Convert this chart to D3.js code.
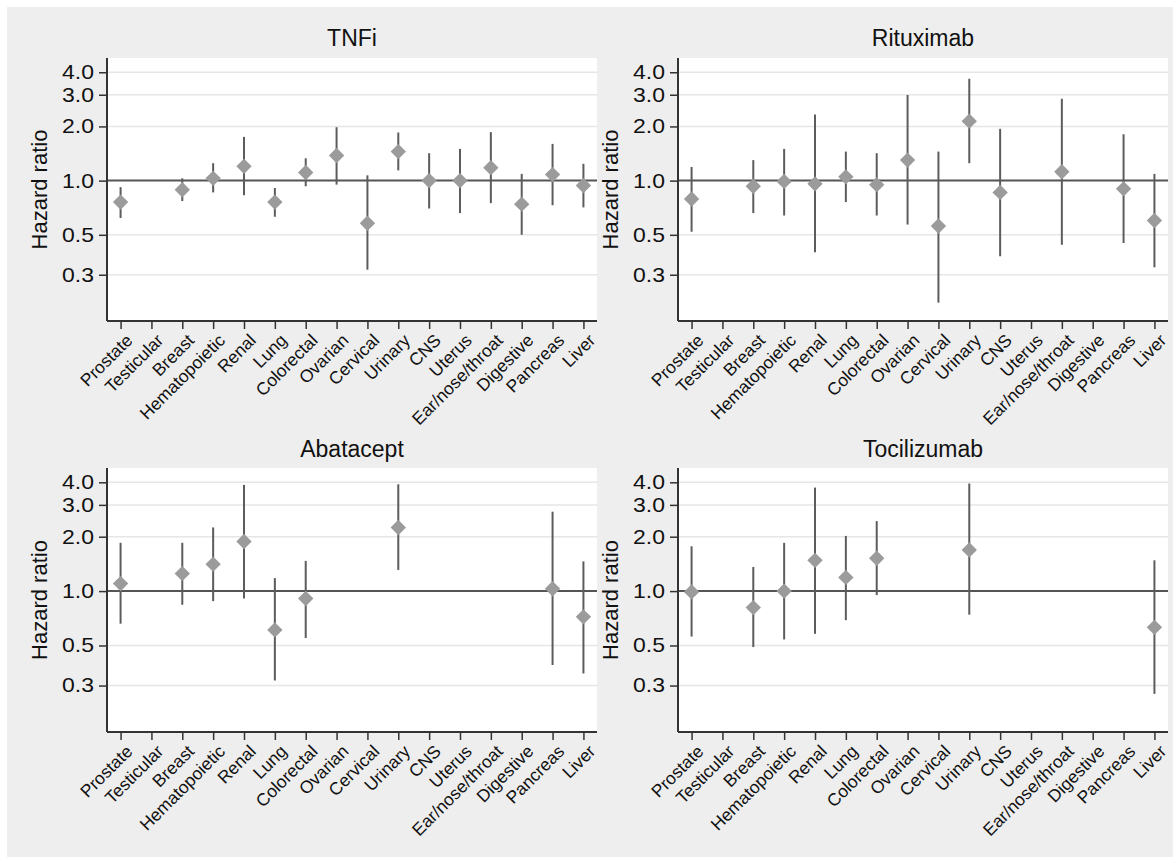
<!DOCTYPE html>
<html><head><meta charset="utf-8">
<script src="https://cdn.jsdelivr.net/npm/d3@7"></script>
<style>body{margin:0;background:#fff}text{font-family:"Liberation Sans",Arial,sans-serif}</style>
</head><body><svg id="c" width="1173" height="858"></svg>
<script>
const categories = ["Prostate","Testicular","Breast","Hematopoietic","Renal","Lung","Colorectal","Ovarian","Cervical","Urinary","CNS","Uterus","Ear/nose/throat","Digestive","Pancreas","Liver"];
const yTickValues = [0.3, 0.5, 1.0, 2.0, 3.0, 4.0];
const yDomain = [0.166, 4.8];
const panelTitles = ["TNFi", "Rituximab", "Abatacept", "Tocilizumab"];

const tnfiHR = [0.76, null, 0.89, 1.03, 1.20, 0.76, 1.11, 1.38, 0.58, 1.45, 1.00, 1.00, 1.18, 0.74, 1.08, 0.94];
const tnfiLo = [0.62, null, 0.77, 0.86, 0.83, 0.63, 0.93, 0.95, 0.32, 1.14, 0.70, 0.66, 0.75, 0.50, 0.73, 0.71];
const tnfiHi = [0.92, null, 1.03, 1.25, 1.75, 0.91, 1.33, 1.98, 1.07, 1.85, 1.42, 1.50, 1.86, 1.09, 1.60, 1.24];

const rituxHR = [0.79, null, 0.93, 0.99, 0.96, 1.05, 0.95, 1.30, 0.56, 2.14, 0.86, null, 1.12, null, 0.90, 0.60];
const rituxLo = [0.52, null, 0.66, 0.64, 0.40, 0.76, 0.64, 0.57, 0.21, 1.25, 0.38, null, 0.44, null, 0.45, 0.33];
const rituxHi = [1.19, null, 1.30, 1.50, 2.33, 1.45, 1.42, 2.99, 1.45, 3.68, 1.94, null, 2.85, null, 1.81, 1.09];

const abataHR = [1.10, null, 1.25, 1.41, 1.88, 0.61, 0.91, null, null, 2.25, null, null, null, null, 1.03, 0.72];
const abataLo = [0.66, null, 0.84, 0.88, 0.91, 0.32, 0.55, null, null, 1.31, null, null, null, null, 0.39, 0.35];
const abataHi = [1.85, null, 1.85, 2.25, 3.87, 1.18, 1.47, null, null, 3.90, null, null, null, null, 2.75, 1.46];

const tociHR = [0.99, null, 0.81, 1.00, 1.48, 1.19, 1.52, null, null, 1.69, null, null, null, null, null, 0.63];
const tociLo = [0.56, null, 0.49, 0.54, 0.58, 0.69, 0.95, null, null, 0.74, null, null, null, null, null, 0.27];
const tociHi = [1.77, null, 1.36, 1.85, 3.74, 2.02, 2.44, null, null, 3.94, null, null, null, null, null, 1.48];

const series = [
  {hr: tnfiHR, lo: tnfiLo, hi: tnfiHi},
  {hr: rituxHR, lo: rituxLo, hi: rituxHi},
  {hr: abataHR, lo: abataLo, hi: abataHi},
  {hr: tociHR, lo: tociLo, hi: tociHi}
];

const svg = d3.select("#c");
svg.append("rect").attr("x", 7).attr("y", 7).attr("width", 1166).attr("height", 850).attr("fill", "#eeeeee");

const layout = [
  {x0: 107, x1: 597, y0: 58, y1: 321, ty: 46},
  {x0: 678, x1: 1168, y0: 58, y1: 321, ty: 46},
  {x0: 107, x1: 597, y0: 468, y1: 732, ty: 457},
  {x0: 678, x1: 1168, y0: 468, y1: 732, ty: 457}
];

layout.forEach((L, i) => {
  const s = series[i];
  const g = svg.append("g");
  const x = d3.scalePoint().domain(categories).range([L.x0, L.x1]).padding(0.44);
  const y = d3.scaleLog().domain(yDomain).range([L.y1, L.y0]);

  g.append("rect").attr("x", L.x0).attr("y", L.y0).attr("width", L.x1 - L.x0).attr("height", L.y1 - L.y0).attr("fill", "#fff");

  g.selectAll(".grid").data(yTickValues.filter(v => v !== 1)).join("line")
    .attr("x1", L.x0).attr("x2", L.x1).attr("y1", d => y(d)).attr("y2", d => y(d))
    .attr("stroke", "#e6e6e6").attr("stroke-width", 1.5);

  g.append("line").attr("x1", L.x0).attr("x2", L.x1).attr("y1", y(1)).attr("y2", y(1))
    .attr("stroke", "#555").attr("stroke-width", 2);

  const ya = g.append("g").attr("transform", `translate(${L.x0},0)`)
    .call(d3.axisLeft(y).tickValues(yTickValues).tickFormat(d3.format(".1f")).tickSize(8).tickPadding(5));
  ya.select(".domain").attr("stroke", "#333").attr("stroke-width", 2).attr("d", `M0,${L.y0}V${L.y1}`);
  ya.selectAll(".tick line").attr("stroke", "#333").attr("stroke-width", 1.5);
  ya.selectAll(".tick text").attr("font-size", 20).attr("fill", "#111")
    .attr("font-family", "Liberation Sans, Arial, sans-serif")
    .attr("transform", "translate(-13,0) scale(1.15,1) translate(13,0)");

  const xa = g.append("g").attr("transform", `translate(0,${L.y1})`)
    .call(d3.axisBottom(x).tickSize(8).tickPadding(4));
  xa.select(".domain").attr("stroke", "#333").attr("stroke-width", 2).attr("d", `M${L.x0},0H${L.x1}`);
  xa.selectAll(".tick line").attr("stroke", "#333").attr("stroke-width", 1.5);
  xa.selectAll(".tick text").attr("font-size", 17.5).attr("fill", "#111")
    .attr("font-family", "Liberation Sans, Arial, sans-serif")
    .attr("text-anchor", "end").attr("dy", "0")
    .attr("transform", "translate(4,12) rotate(-45)");

  g.append("text").attr("transform", `translate(${L.x0 - 60},${(L.y0 + L.y1) / 2}) rotate(-90)`)
    .attr("text-anchor", "middle").attr("font-size", 22).attr("fill", "#111").text("Hazard ratio");

  g.append("text").attr("x", (L.x0 + L.x1) / 2).attr("y", L.ty).attr("text-anchor", "middle")
    .attr("font-size", 23).attr("fill", "#111").text(panelTitles[i]);

  const pts = categories.map((c, k) => ({c, hr: s.hr[k], lo: s.lo[k], hi: s.hi[k]})).filter(d => d.hr != null);

  g.selectAll(".ci").data(pts).join("line")
    .attr("x1", d => x(d.c)).attr("x2", d => x(d.c)).attr("y1", d => y(d.lo)).attr("y2", d => y(d.hi))
    .attr("stroke", "#5c5c5c").attr("stroke-width", 2);

  const sym = d3.symbol().type(d3.symbolSquare).size(118);
  g.selectAll(".pt").data(pts).join("path")
    .attr("d", sym).attr("transform", d => `translate(${x(d.c)},${y(d.hr)}) rotate(45)`)
    .attr("fill", "#9b9b9b");
});
</script></body></html>
